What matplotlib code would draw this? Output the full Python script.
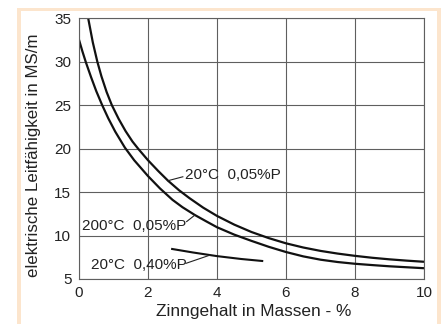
import matplotlib
matplotlib.use("Agg")
import matplotlib.pyplot as plt
from matplotlib.patches import Rectangle

plt.rcParams['font.family'] = ['Liberation Sans', 'DejaVu Sans']

# Leitfähigkeit über Zinngehalt (Sn in Massen-%, Werte in MS/m)
sn_20c_005p = [0.27, 0.4, 0.53, 0.65, 0.8, 0.95, 1.15, 1.35, 1.55, 1.72, 2.0, 2.3, 2.58, 2.9,
               3.2, 3.6, 4.0, 4.5, 5.0, 5.5, 6.0, 6.5, 7.0, 7.5, 8.0, 8.5, 9.0, 9.5, 10.0]
ms_20c_005p = [34.9, 32.2, 30.0, 28.3, 26.5, 25.0, 23.4, 22.0, 20.8, 19.95, 18.65, 17.4, 16.3, 15.2,
               14.3, 13.2, 12.25, 11.25, 10.4, 9.7, 9.1, 8.62, 8.23, 7.92, 7.66, 7.44, 7.26, 7.11, 6.98]

sn_200c_005p = [0.0, 0.1, 0.2, 0.35, 0.5, 0.67, 0.85, 1.05, 1.33, 1.6, 2.0, 2.35, 2.71, 3.0,
                3.36, 3.7, 4.0, 4.5, 5.0, 5.5, 6.0, 6.5, 7.0, 7.5, 8.0, 8.5, 9.0, 9.5, 10.0]
ms_200c_005p = [32.5, 31.15, 29.9, 28.2, 26.6, 25.0, 23.46, 21.94, 20.1, 18.65, 16.83, 15.4, 14.1, 13.25,
                12.35, 11.6, 10.95, 10.1, 9.38, 8.7, 8.1, 7.6, 7.22, 6.95, 6.75, 6.6, 6.46, 6.35, 6.24]

sn_20c_040p = [2.67, 3.3, 4.0, 4.7, 5.34]
ms_20c_040p = [8.47, 8.05, 7.63, 7.3, 7.06]

xticks = [0, 2, 4, 6, 8, 10]
yticks = [5, 10, 15, 20, 25, 30, 35]

fig = plt.figure(figsize=(4.44, 3.24), dpi=100)
ax = fig.add_axes([79 / 444, 1 - 279 / 324, 345 / 444, 261 / 324])

grid_col = '#5f5f5f'
ax.grid(True, color=grid_col, linewidth=0.8)
ax.set_axisbelow(True)
for s in ax.spines.values():
    s.set_color(grid_col)
    s.set_linewidth(0.8)

line_kw = dict(color='#111111', solid_joinstyle='round', solid_capstyle='butt')
ax.plot(sn_20c_005p, ms_20c_005p, lw=1.6, **line_kw)
ax.plot(sn_200c_005p, ms_200c_005p, lw=1.6, **line_kw)
ax.plot(sn_20c_040p, ms_20c_040p, lw=1.5, **line_kw)

ax.set_xlim(0, 10)
ax.set_ylim(5, 35)
ax.set_xticks(xticks)
ax.set_yticks(yticks)
ax.tick_params(length=0, labelsize=11, colors='#222222')
ax.tick_params(axis='y', pad=5.5)
ax.tick_params(axis='x', pad=5)

ax.set_xlabel('Zinngehalt in Massen - %', fontsize=12.4, color='#222222')
ax.set_ylabel('elektrische Leitfähigkeit in MS/m', fontsize=12.2, color='#222222')
ax.xaxis.label.set_verticalalignment('center')
ax.yaxis.label.set_verticalalignment('center')
ax.xaxis.set_label_coords(0.506, -0.123)
ax.yaxis.set_label_coords(-0.133, 0.473)

# Kurvenbeschriftungen mit Hinweislinien
lab_kw = dict(fontsize=11, color='#222222', va='center')
ax.text(3.08, 17.0, '20°C  0,05%P', ha='left', **lab_kw)
ax.plot([3.01, 2.58], [16.75, 16.3], color='#222222', lw=0.8)
ax.text(3.12, 11.1, '200°C  0,05%P', ha='right', **lab_kw)
ax.plot([3.12, 3.36], [11.6, 12.35], color='#222222', lw=0.8)
ax.text(3.12, 6.6, '20°C  0,40%P', ha='right', **lab_kw)
ax.plot([3.1, 3.8], [6.8, 7.75], color='#222222', lw=0.8)

# Rahmen
peach = '#fce5cd'
W, H = 444, 324
for (x0, y0, w, h) in [(17, 8, 424, 3), (17, 8, 4, 316), (437, 8, 4, 316)]:
    fig.add_artist(Rectangle((x0 / W, 1 - (y0 + h) / H), w / W, h / H,
                             transform=fig.transFigure, color=peach, lw=0, zorder=-1))

fig.savefig('out.png', dpi=100)
